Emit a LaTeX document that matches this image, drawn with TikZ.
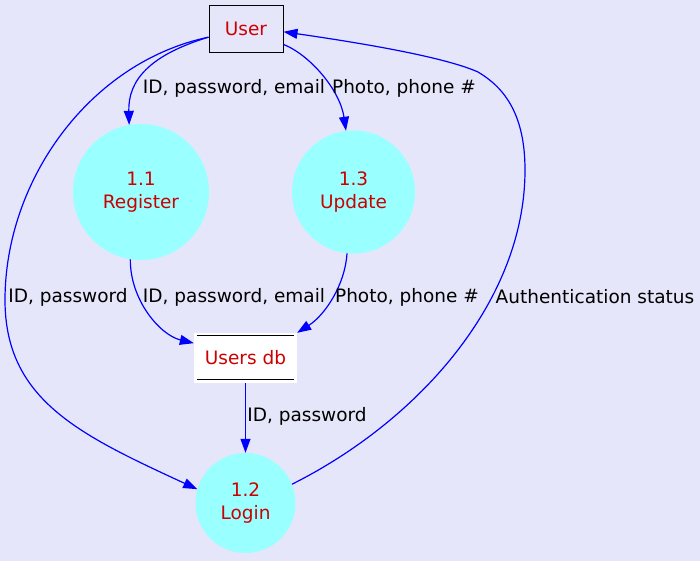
\documentclass[tikz,border=0pt]{standalone}
\usepackage{fontspec}
\setmainfont{DejaVu Sans}
\usetikzlibrary{arrows.meta}
\definecolor{bgcol}{RGB}{230,230,250}
\definecolor{proccol}{RGB}{153,255,255}
\definecolor{labred}{RGB}{205,0,0}
\begin{document}
\begin{tikzpicture}[x=1pt,y=-1pt,
  every node/.style={font=\fontsize{18.5}{22.4}\selectfont},
  entity/.style={draw=black,line width=1pt,fill=bgcol,minimum width=74pt,minimum height=47pt,inner sep=0pt,text=labred},
  proc/.style={circle,fill=proccol,inner sep=0pt,align=center,text=labred},
  store/.style={fill=white,minimum width=103pt,minimum height=50pt,inner sep=0pt,text=labred},
  flow/.style={draw=blue,line width=1.2pt,-{Triangle[length=14pt,width=10pt]}},
  flowlabel/.style={text=black,inner sep=0pt}]
\useasboundingbox (0,0) rectangle (700,560);
\fill[bgcol] (-3,-3) rectangle (703,563);
\node[entity] (user) at (246,28.5) {User};
\node[proc,minimum size=136pt] (reg) at (141,192) {1.1\\Register};
\node[proc,minimum size=123pt] (upd) at (353.5,192) {1.3\\Update};
\node[store] (db) at (245.5,358) {Users db};
\node[proc,minimum size=100pt] (login) at (245.5,503) {1.2\\Login};
\draw[black,line width=1.3pt] ([xshift=3pt,yshift=-3pt]db.north west) -- ([xshift=-3pt,yshift=-3pt]db.north east);
\draw[black,line width=1.3pt] ([xshift=3pt,yshift=4pt]db.south west) -- ([xshift=-3pt,yshift=4pt]db.south east);
% edges
\draw[flow] (user.193) .. controls (150,55) and (128,80) .. (reg.100);
\draw[flow] (user.-23) .. controls (310,55) and (340,90) .. (upd.97);
\draw[flow] (user.193) .. controls (90,62) and (5,180) .. (5,300) .. controls (5,400) and (80,435) .. (login.164);
\draw[flow] (login.22) .. controls (420,420) and (525,300) .. (525,170) .. controls (525,115) and (505,88) .. (478,72) .. controls (440,55) and (340,40) .. (user.-5);
\draw[flow] (reg.-99) .. controls (130,300) and (160,335) .. (db.164.5);
\draw[flow] (upd.-96) .. controls (345,285) and (325,315) .. (db.north east);
\draw[flow] (db.south) -- (login.north);
% labels
\node[flowlabel] (l1) at (234,88) {ID, password, email};
\node[flowlabel] (l2) at (404,88) {Photo, phone \#};
\node[flowlabel] (l3) at (68,297) {ID, password};
\node[flowlabel] (l4) at (234,297) {ID, password, email};
\node[flowlabel] (l5) at (407,297) {Photo, phone \#};
\node[flowlabel] (l6) at (595,297) {Authentication status};
\node[flowlabel] (l7) at (307,416) {ID, password};
\end{tikzpicture}
\end{document}
